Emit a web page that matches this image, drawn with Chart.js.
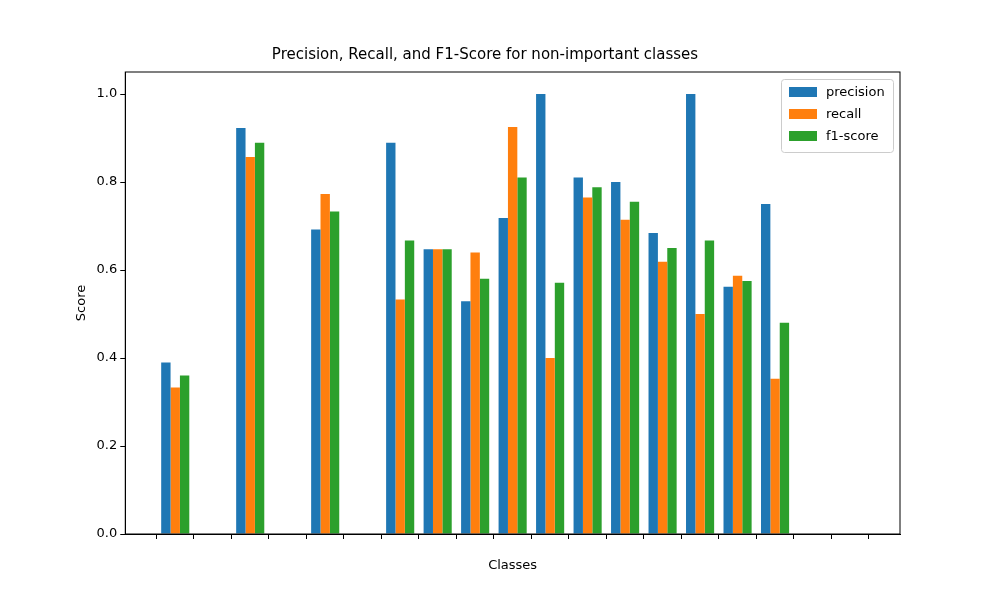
<!DOCTYPE html>
<html>
<head>
<meta charset="utf-8">
<script src="https://cdn.jsdelivr.net/npm/chart.js@4"></script>
<style>body{margin:0;background:#fff}#wrap{width:1000px;height:600px}</style>
</head>
<body>
<div id="wrap"><canvas id="myChart"></canvas></div>
<script>
var classIdx = [0,1,2,3,4,5,6,7,8,9,10,11,12,13,14,15,16,17,18];
var precision = [0.39,0,0.923,0,0.692,0,0.889,0.647,0.529,0.718,1.0,0.81,0.8,0.684,1.0,0.562,0.75,0,0];
var recall    = [0.333,0,0.857,0,0.773,0,0.533,0.647,0.64,0.925,0.4,0.765,0.714,0.619,0.5,0.587,0.353,0,0];
var f1score   = [0.36,0,0.889,0,0.733,0,0.667,0.647,0.58,0.81,0.571,0.788,0.755,0.65,0.667,0.575,0.48,0,0];
var yTicks = [0,0.2,0.4,0.6,0.8,1.0];
var colors = ["#1f77b4","#ff7f0e","#2ca02c"];
var names = ["precision","recall","f1-score"];

function pts(arr){ return classIdx.map(function(x,i){ return {x:x, y:arr[i]}; }); }

var legendBox = {
  id: "legendBox",
  afterDraw: function(chart){
    var c = chart.ctx, a = chart.chartArea;
    var w = 112, h = 73, x = a.right - w - 7, y = a.top + 7;
    c.save();
    c.fillStyle = "rgba(255,255,255,0.8)";
    c.strokeStyle = "#cccccc";
    c.lineWidth = 1;
    c.beginPath(); c.roundRect(x+0.5, y+0.5, w, h, 3); c.fill(); c.stroke();
    c.font = "13px 'DejaVu Sans'";
    c.textBaseline = "middle";
    names.forEach(function(n,i){
      var yy = y + 13 + i*22;
      c.fillStyle = colors[i];
      c.fillRect(x+8, yy-5, 28, 10);
      c.fillStyle = "#000";
      c.fillText(n, x+45, yy+1);
    });
    c.restore();
  }
};

new Chart("myChart", {
  type: "bar",
  data: {
    datasets: [
      {label:names[0], data:pts(precision), backgroundColor:colors[0]},
      {label:names[1], data:pts(recall), backgroundColor:colors[1]},
      {label:names[2], data:pts(f1score), backgroundColor:colors[2]}
    ]
  },
  options: {
    responsive: true,
    maintainAspectRatio: false,
    animation: false,
    layout: {padding: {left: 70, right: 100, top: 46, bottom: 23}},
    datasets: {bar: {categoryPercentage: 0.75, barPercentage: 1.0}},
    plugins: {
      legend: {display: false},
      tooltip: {enabled: false},
      title: {display: true, text: "Precision, Recall, and F1-Score for non-important classes",
        color: "#000", font: {family: "DejaVu Sans", size: 15, weight: "normal"}, padding: {bottom: 8}}
    },
    scales: {
      x: {
        type: "linear", min: -1.333, max: 19.333, offset: false,
        afterBuildTicks: function(s){ s.ticks = classIdx.map(function(v){ return {value:v}; }); },
        ticks: {callback: function(){ return ""; }, padding: 0},
        grid: {drawOnChartArea: false, tickLength: 5, color: "#000"},
        border: {color: "#000"},
        title: {display: true, text: "Classes", color: "#000", font: {family: "DejaVu Sans", size: 13}}
      },
      y: {
        min: 0, max: 1.05,
        afterBuildTicks: function(s){ s.ticks = yTicks.map(function(v){ return {value:v}; }); },
        ticks: {color: "#000", font: {family: "DejaVu Sans", size: 13},
          callback: function(v){ return v.toFixed(1); }},
        grid: {drawOnChartArea: false, tickLength: 5, color: "#000"},
        border: {color: "#000"},
        title: {display: true, text: "Score", color: "#000", font: {family: "DejaVu Sans", size: 13}}
      }
    }
  },
  plugins: [legendBox, {
    id: "frame",
    afterDraw: function(chart){
      var c = chart.ctx, a = chart.chartArea;
      c.save(); c.strokeStyle = "#000"; c.lineWidth = 1;
      c.strokeRect(a.left, a.top, a.right-a.left, a.bottom-a.top);
      c.restore();
    }
  }]
});
</script>
</body>
</html>
